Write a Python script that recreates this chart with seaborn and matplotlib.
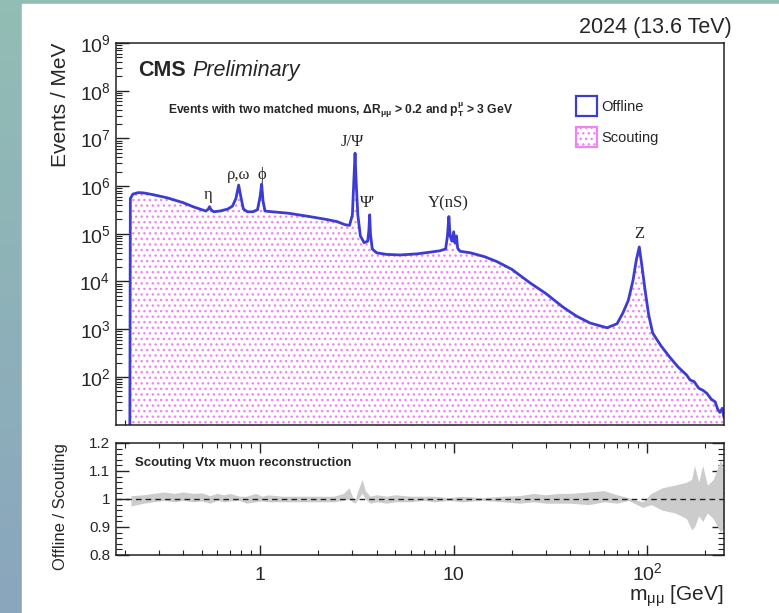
import numpy as np
import matplotlib
matplotlib.use("Agg")
from matplotlib import pyplot as plt
from matplotlib.patches import Patch, Rectangle
from matplotlib.ticker import FixedLocator, NullFormatter, FixedFormatter, LogFormatterSciNotation
import seaborn as sns

# dimuon mass spectrum (GeV, events / MeV)
mass = [0.212, 0.2135, 0.22, 0.235, 0.25, 0.28, 0.33, 0.40, 0.45, 0.50,
        0.525, 0.54, 0.548, 0.558, 0.575, 0.62, 0.68, 0.72, 0.75, 0.775,
        0.795, 0.82, 0.86, 0.92, 0.97, 1.0, 1.019, 1.035, 1.06, 1.15,
        1.4, 1.8, 2.2, 2.5, 2.75, 2.9, 3.0, 3.05, 3.097, 3.13,
        3.2, 3.3, 3.45, 3.6, 3.65, 3.686, 3.72, 3.8, 4.0, 4.5,
        5.3, 6.5, 7.5, 8.5, 9.1, 9.3, 9.46, 9.6, 9.8, 10.02,
        10.15, 10.355, 10.5, 10.8, 12.2, 14.5, 16.8, 20, 24.9, 30,
        36.8, 43, 50.7, 62.1, 70, 75.1, 80, 84.7, 88, 91.2,
        94, 97.7, 102, 107, 118, 131, 145, 160, 167, 175,
        185, 195, 204, 215, 225, 232, 238, 245, 250]
events = [1, 5.5e5, 6.8e5, 7.3e5, 7.2e5, 6.6e5, 5.7e5, 4.5e5, 3.7e5, 3.2e5,
          3.0e5, 3.3e5, 3.7e5, 3.2e5, 2.9e5, 3.0e5, 3.3e5, 3.8e5, 5.5e5, 1.05e6,
          6e5, 3.3e5, 2.9e5, 2.9e5, 3.2e5, 6e5, 1.1e6, 5e5, 3.0e5, 2.9e5,
          2.7e5, 2.3e5, 2.0e5, 1.8e5, 1.55e5, 1.5e5, 2.5e5, 1.2e6, 4.9e6, 1.5e6,
          2.5e5, 9e4, 6.5e4, 7e4, 1.2e5, 2.5e5, 1.0e5, 4.8e4, 4.0e4, 3.7e4,
          3.6e4, 3.8e4, 4.1e4, 4.4e4, 4.8e4, 9e4, 2.3e5, 9e4, 7e4, 1.1e5,
          6.5e4, 9e4, 5e4, 4.3e4, 4.0e4, 3.3e4, 2.6e4, 1.8e4, 9.3e3, 5.6e3,
          2.9e3, 1.9e3, 1.35e3, 1.07e3, 1.3e3, 2.2e3, 4e3, 1.07e4, 2.8e4, 5.3e4,
          2.2e4, 6.6e3, 2e3, 830, 450, 260, 160, 110, 86, 80,
          58, 52, 45, 34, 30, 21, 18, 22, 14]

# ratio band Offline / Scouting
ratio_mass = [0.215, 0.25, 0.28, 0.32, 0.36, 0.40, 0.45, 0.50, 0.55, 0.60,
              0.65, 0.70, 0.78, 0.85, 0.95, 1.02, 1.1, 1.3, 1.6, 2.0,
              2.4, 2.7, 2.88, 3.0, 3.1, 3.2, 3.37, 3.5, 3.7, 4.0,
              4.5, 5.0, 6.0, 7.0, 8.0, 9.5, 11, 14, 18, 22,
              26, 30, 35, 40, 50, 60, 70, 80, 95, 105,
              120, 140, 160, 170, 176, 185, 194, 205, 220, 240, 250]
ratio_lo = [0.975, 0.985, 0.99, 0.995, 0.99, 0.995, 0.99, 0.993, 0.985, 0.995,
            0.99, 0.993, 0.995, 0.985, 0.99, 0.993, 0.99, 0.99, 0.99, 0.99,
            0.99, 0.995, 1.0, 0.99, 0.985, 1.0, 1.02, 1.0, 0.985, 0.99,
            0.985, 0.99, 0.99, 0.995, 0.99, 0.995, 0.99, 0.995, 0.99, 0.985,
            0.99, 0.985, 0.985, 0.985, 0.98, 0.99, 0.985, 0.995, 0.97, 0.98,
            0.96, 0.95, 0.93, 0.89, 0.90, 0.94, 0.92, 0.95, 0.93, 0.88, 0.90]
ratio_hi = [1.012, 1.015, 1.02, 1.025, 1.02, 1.025, 1.02, 1.022, 1.012, 1.02,
            1.015, 1.02, 1.01, 1.01, 1.02, 1.01, 1.015, 1.01, 1.01, 1.01,
            1.01, 1.02, 1.04, 1.01, 0.995, 1.03, 1.07, 1.03, 1.01, 1.015,
            1.01, 1.015, 1.01, 1.01, 1.01, 1.005, 1.01, 1.005, 1.01, 1.012,
            1.02, 1.015, 1.02, 1.02, 1.025, 1.03, 1.015, 1.005, 0.99, 1.02,
            1.04, 1.05, 1.06, 1.07, 1.12, 1.06, 1.12, 1.05, 1.07, 1.14, 1.10]

peak_labels = ["η", "ρ,ω", "ϕ", "J/Ψ", "Ψ'", "Υ(nS)", "Z"]
peak_x = [0.54, 0.775, 1.02, 3.0, 3.61, 9.4, 91.0]
peak_y = [6.5e5, 1.7e6, 1.7e6, 8.4e6, 4.4e5, 4.4e5, 1.0e5]

BLUE = "#3c3cd2"
PINK = "#f084f0"

sns.set_theme(style="ticks")
plt.rcParams["font.family"] = ["Liberation Sans", "DejaVu Sans"]
plt.rcParams["mathtext.fontset"] = "custom"
plt.rcParams["mathtext.rm"] = "Liberation Sans"
plt.rcParams["mathtext.it"] = "Liberation Sans:italic"
plt.rcParams["mathtext.bf"] = "Liberation Sans:bold"
plt.rcParams["hatch.linewidth"] = 1.0

W, H = 779, 613
fig = plt.figure(figsize=(W / 100, H / 100), dpi=100)

# slide background strip
bg = fig.add_axes([0, 0, 1, 1], zorder=-10)
grad = np.linspace(0, 1, 50).reshape(-1, 1)
bg.imshow(grad, aspect="auto", extent=[0, 1, 0, 1], origin="lower",
          cmap=matplotlib.colors.LinearSegmentedColormap.from_list("s", ["#8aa6bd", "#92bdb4"]))
bg.add_patch(Rectangle((22 / W, 0), 1, (H - 4) / H, color="white", transform=bg.transAxes))
bg.set_axis_off()

L = 116 / W
Wd = (724 - 116) / W
ax = fig.add_axes([L, (H - 425) / H, Wd, (425 - 43) / H])
axr = fig.add_axes([L, (H - 555) / H, Wd, (555 - 443) / H])

# main spectrum
ax.fill_between(mass, events, 1, facecolor="white", edgecolor=PINK, hatch="...", linewidth=0)
sns.lineplot(x=mass, y=events, ax=ax, color=BLUE, linewidth=2.0, estimator=None, sort=False)
ax.set_xscale("log")
ax.set_yscale("log")
ax.set_xlim(0.18, 250)
ax.set_ylim(9.8, 1e9)

for lab, px, py in zip(peak_labels, peak_x, peak_y):
    ax.text(px, py, lab, ha="center", va="center", fontsize=12,
            family=["Liberation Serif", "DejaVu Serif"])

ax.text(0.036, 0.929, "CMS", transform=ax.transAxes, fontsize=15.5, fontweight="bold", va="center")
ax.text(0.125, 0.929, "Preliminary", transform=ax.transAxes, fontsize=15.5, style="italic", va="center")
ax.text(0.0855, 0.8246,
        r"Events with two matched muons, $\mathbf{ΔR_{μμ}}$ > 0.2 and $\mathbf{p_{T}^{μ}}$ > 3 GeV",
        transform=ax.transAxes, fontsize=8.7, fontweight="bold", va="center")
fig.text(732 / W, (H - 28) / H, "2024 (13.6 TeV)", ha="right", va="center", fontsize=15.5)

handles = [Patch(facecolor="white", edgecolor=BLUE, linewidth=1.6, label="Offline"),
           Patch(facecolor="white", edgecolor=PINK, hatch="...", linewidth=1.6, label="Scouting")]
ax.legend(handles=handles, loc="upper left", bbox_to_anchor=(0.757, 0.862), frameon=False,
          fontsize=10.5, handlelength=1.45, handleheight=1.8, labelspacing=0.7,
          handletextpad=0.25, borderpad=0, borderaxespad=0)

ax.set_ylabel("Events / MeV", fontsize=15, ha="right")
ax.yaxis.set_label_coords(-0.092, 1.0)
ax.yaxis.label.set_va("center")
ax.set_xlabel("")

# ratio panel
axr.fill_between(ratio_mass, ratio_lo, ratio_hi, color="#cccccc", linewidth=0)
axr.axhline(1.0, color="#222222", linestyle=(0, (4, 3)), linewidth=1.0)
axr.set_xscale("log")
axr.set_xlim(0.18, 250)
axr.set_ylim(0.8, 1.2)
axr.text(0.031, 0.82, "Scouting Vtx muon reconstruction", transform=axr.transAxes,
         fontsize=9.5, fontweight="bold", va="center")
axr.set_ylabel("Offline / Scouting", fontsize=12, ha="right")
axr.yaxis.set_label_coords(-0.092, 1.0)
axr.yaxis.label.set_va("center")
axr.set_xlabel(r"m$_{\mathregular{μμ}}$ [GeV]", fontsize=15, ha="right")
axr.xaxis.set_label_coords(1.0, -0.37)
axr.xaxis.label.set_va("center")

minor_x = [0.2, 0.3, 0.4, 0.5, 0.6, 0.7, 0.8, 0.9, 2, 3, 4, 5, 6, 7, 8, 9,
           20, 30, 40, 50, 60, 70, 80, 90, 200]
for a in (ax, axr):
    a.xaxis.set_major_locator(FixedLocator([1, 10, 100]))
    a.xaxis.set_minor_locator(FixedLocator(minor_x))
    a.xaxis.set_minor_formatter(NullFormatter())
    for s in a.spines.values():
        s.set_linewidth(1.1)
        s.set_color("#222222")

ax.xaxis.set_major_formatter(NullFormatter())
ax.yaxis.set_major_locator(FixedLocator([10.0 ** k for k in range(2, 10)]))
ax.yaxis.set_major_formatter(LogFormatterSciNotation())
ax.yaxis.set_minor_locator(FixedLocator([m * 10.0 ** k for k in range(1, 9) for m in range(2, 10)]))
ax.yaxis.set_minor_formatter(NullFormatter())
ax.tick_params(axis="both", which="both", direction="in", top=False, right=False, color="#222222")
ax.tick_params(axis="y", which="major", length=9, width=1.0, labelsize=14, pad=4)
ax.tick_params(axis="y", which="minor", length=4.5, width=0.8)
ax.tick_params(axis="x", which="major", length=7.5, width=1.0)
ax.tick_params(axis="x", which="minor", length=3.8, width=0.8)

axr.xaxis.set_major_formatter(FixedFormatter(["1", "10", r"$10^{2}$"]))
axr.yaxis.set_major_locator(FixedLocator([0.8, 0.9, 1.0, 1.1, 1.2]))
axr.yaxis.set_major_formatter(FixedFormatter(["0.8", "0.9", "1", "1.1", "1.2"]))
axr.yaxis.set_minor_locator(FixedLocator(np.arange(0.82, 1.2, 0.02)))
axr.tick_params(axis="both", which="both", direction="in", top=True, right=True, color="#222222")
axr.tick_params(axis="y", which="major", length=9, width=1.0, labelsize=11, pad=4)
axr.tick_params(axis="y", which="minor", length=4.5, width=0.8)
axr.tick_params(axis="x", which="major", length=7.5, width=1.0, labelsize=14, pad=18)
axr.tick_params(axis="x", which="minor", length=3.8, width=0.8)
for t in axr.xaxis.get_major_ticks():
    t.label1.set_va("baseline")

fig.savefig("out.png", dpi=100)
